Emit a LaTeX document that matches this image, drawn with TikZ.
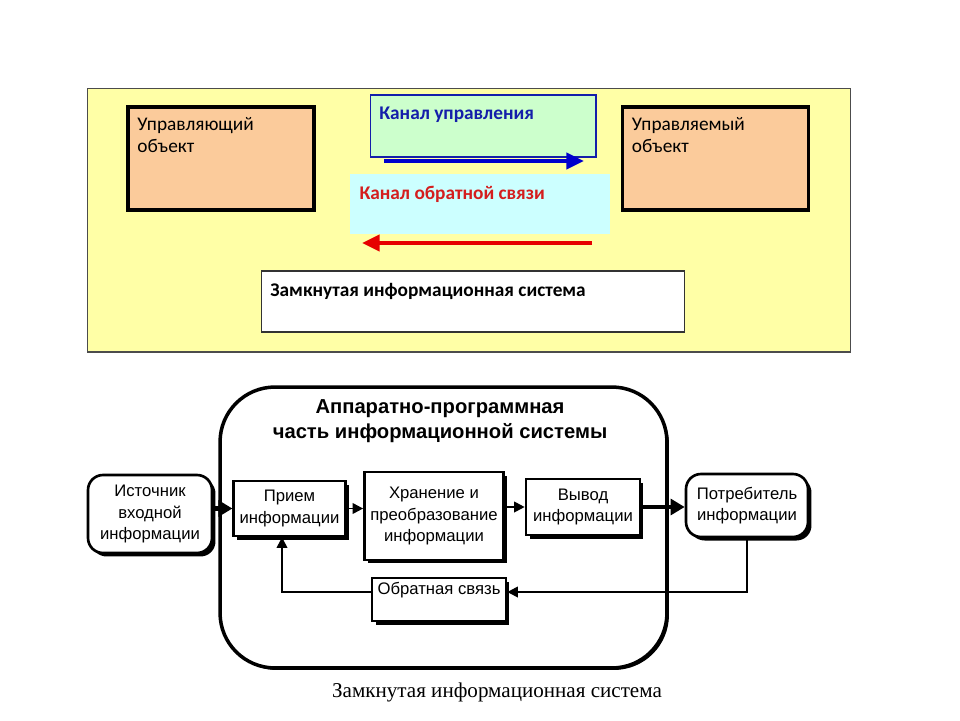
\documentclass[tikz,border=0pt]{standalone}
\usepackage{fontspec}
\setmainfont{Liberation Sans}
\newfontfamily\calfont{Carlito}
\newfontfamily\serfont{Liberation Serif}
\usetikzlibrary{arrows.meta,shadows}
\definecolor{panelyellow}{RGB}{255,255,166}
\definecolor{peach}{RGB}{251,203,155}
\definecolor{chgreen}{RGB}{204,255,204}
\definecolor{chcyan}{RGB}{204,255,255}
\definecolor{chblue}{RGB}{20,30,170}
\definecolor{fbred}{RGB}{212,30,30}
\definecolor{arrblue}{RGB}{0,0,204}
\definecolor{arrred}{RGB}{230,0,0}
\begin{document}
\begin{tikzpicture}[
  x=0.02cm, y=-0.02cm,
  panel/.style = {draw=black!70, fill=panelyellow, line width=0.6pt},
  objbox/.style = {draw, line width=2.2pt, fill=peach,
    minimum width=3.72cm, minimum height=2.06cm},
  lbl/.style = {anchor=north west, inner xsep=0.19cm, inner ysep=0.24cm, align=left,
    font=\calfont\fontsize{11}{12.5}\selectfont},
  lblb/.style = {lbl, font=\calfont\bfseries\fontsize{11}{12.5}\selectfont},
  chan/.style = {line width=2.4pt, -{Triangle[length=10pt,width=9pt]}},
  frame/.style = {draw, line width=2pt, rounded corners=1.1cm,
    drop shadow={shadow xshift=0.04cm, shadow yshift=-0.04cm, fill=black, opacity=1}, fill=white},
  blk/.style = {draw, line width=1.5pt, fill=white, align=center,
    font=\fontsize{9.5}{12.3}\selectfont,
    drop shadow={shadow xshift=0.07cm, shadow yshift=-0.07cm, fill=black, opacity=1}},
  thin/.style = {line width=1.1pt, -{Triangle[length=6pt,width=6pt]}},
  thick/.style = {line width=2.8pt, -{Triangle[length=8pt,width=9pt]}}
  ]
  \useasboundingbox (0,0) rectangle (960,720);
  % upper panel
  \node[panel, minimum width=15.28cm, minimum height=5.28cm] (panel) at (469,220) {};
  \node[objbox, label={[lbl, inner xsep=0.22cm]north west:Управляющий\\объект}] (ctrl) at (221,158.5) {};
  \node[objbox, label={[lbl, inner xsep=0.22cm]north west:Управляемый\\объект}] (obj) at (715.5,158.5) {};
  \node[draw=chblue, fill=chgreen, line width=0.6pt, minimum width=4.52cm, minimum height=1.24cm,
    label={[lblb, text=chblue]north west:Канал управления}] (fwd) at (483,126) {};
  \node[fill=chcyan, minimum width=5.2cm, minimum height=1.2cm,
    label={[lblb, text=fbred]north west:Канал обратной связи}] (back) at (480,204) {};
  \node[draw=black!80, fill=white, line width=0.6pt, minimum width=8.48cm, minimum height=1.22cm,
    label={[lblb]north west:Замкнутая информационная система}] (cis) at (473,301.5) {};
  \coordinate (fwdA) at (384,161);
  \coordinate (fwdB) at (584,161);
  \coordinate (backA) at (592,243);
  \coordinate (backB) at (362,243);
  \draw[chan, color=arrblue] (fwdA) -- (fwdB);
  \draw[chan, color=arrred] (backA) -- (backB);
  % lower scheme
  \node[frame, minimum width=8.94cm, minimum height=5.62cm] (hw) at (443.5,527.5) {};
  \node[align=center, font=\bfseries\fontsize{11.5}{14}\selectfont] (hwt) at (440,421)
    {Аппаратно-программная\\часть информационной системы};
  \node[blk, rounded corners=0.3cm, minimum width=2.48cm, minimum height=1.56cm] (src) at (150,514)
    {Источник\\входной\\информации};
  \node[blk, minimum width=2.14cm, minimum height=1.1cm] (recv) at (289.5,508.5) {Прием\\информации};
  \node[blk, minimum width=2.64cm, minimum height=1.76cm] (store) at (434,516)
    {Хранение и\\преобразование\\информации};
  \node[blk, minimum width=2.28cm, minimum height=1.12cm] (out) at (583,507) {Вывод\\информации};
  \node[blk, rounded corners=0.3cm, minimum width=2.44cm, minimum height=1.26cm] (cons) at (747,505.5)
    {Потребитель\\информации};
  \node[blk, minimum width=2.68cm, minimum height=0.86cm,
    label={[anchor=north, inner sep=0.1cm, font=\fontsize{9.5}{12}\selectfont]north:Обратная связь}] (fb) at (439,599.5) {};
  \draw[thick] (recv.west -| src.east) -- (recv.west);
  \draw[thin] (recv.east) -- (recv.east -| store.west);
  \draw[thin] (store.east |- out.west) -- (out.west);
  \draw[thick] (out.east) -- (out.east -| cons.west);
  \draw[thin] (cons.south) |- ([yshift=0.15cm]fb.east);
  \draw[thin] ([yshift=0.15cm]fb.west) -| ([xshift=-0.15cm]recv.south);
  \node[font=\serfont\fontsize{12}{14}\selectfont] (cap) at (497,692) {Замкнутая информационная система};
\end{tikzpicture}
\end{document}
